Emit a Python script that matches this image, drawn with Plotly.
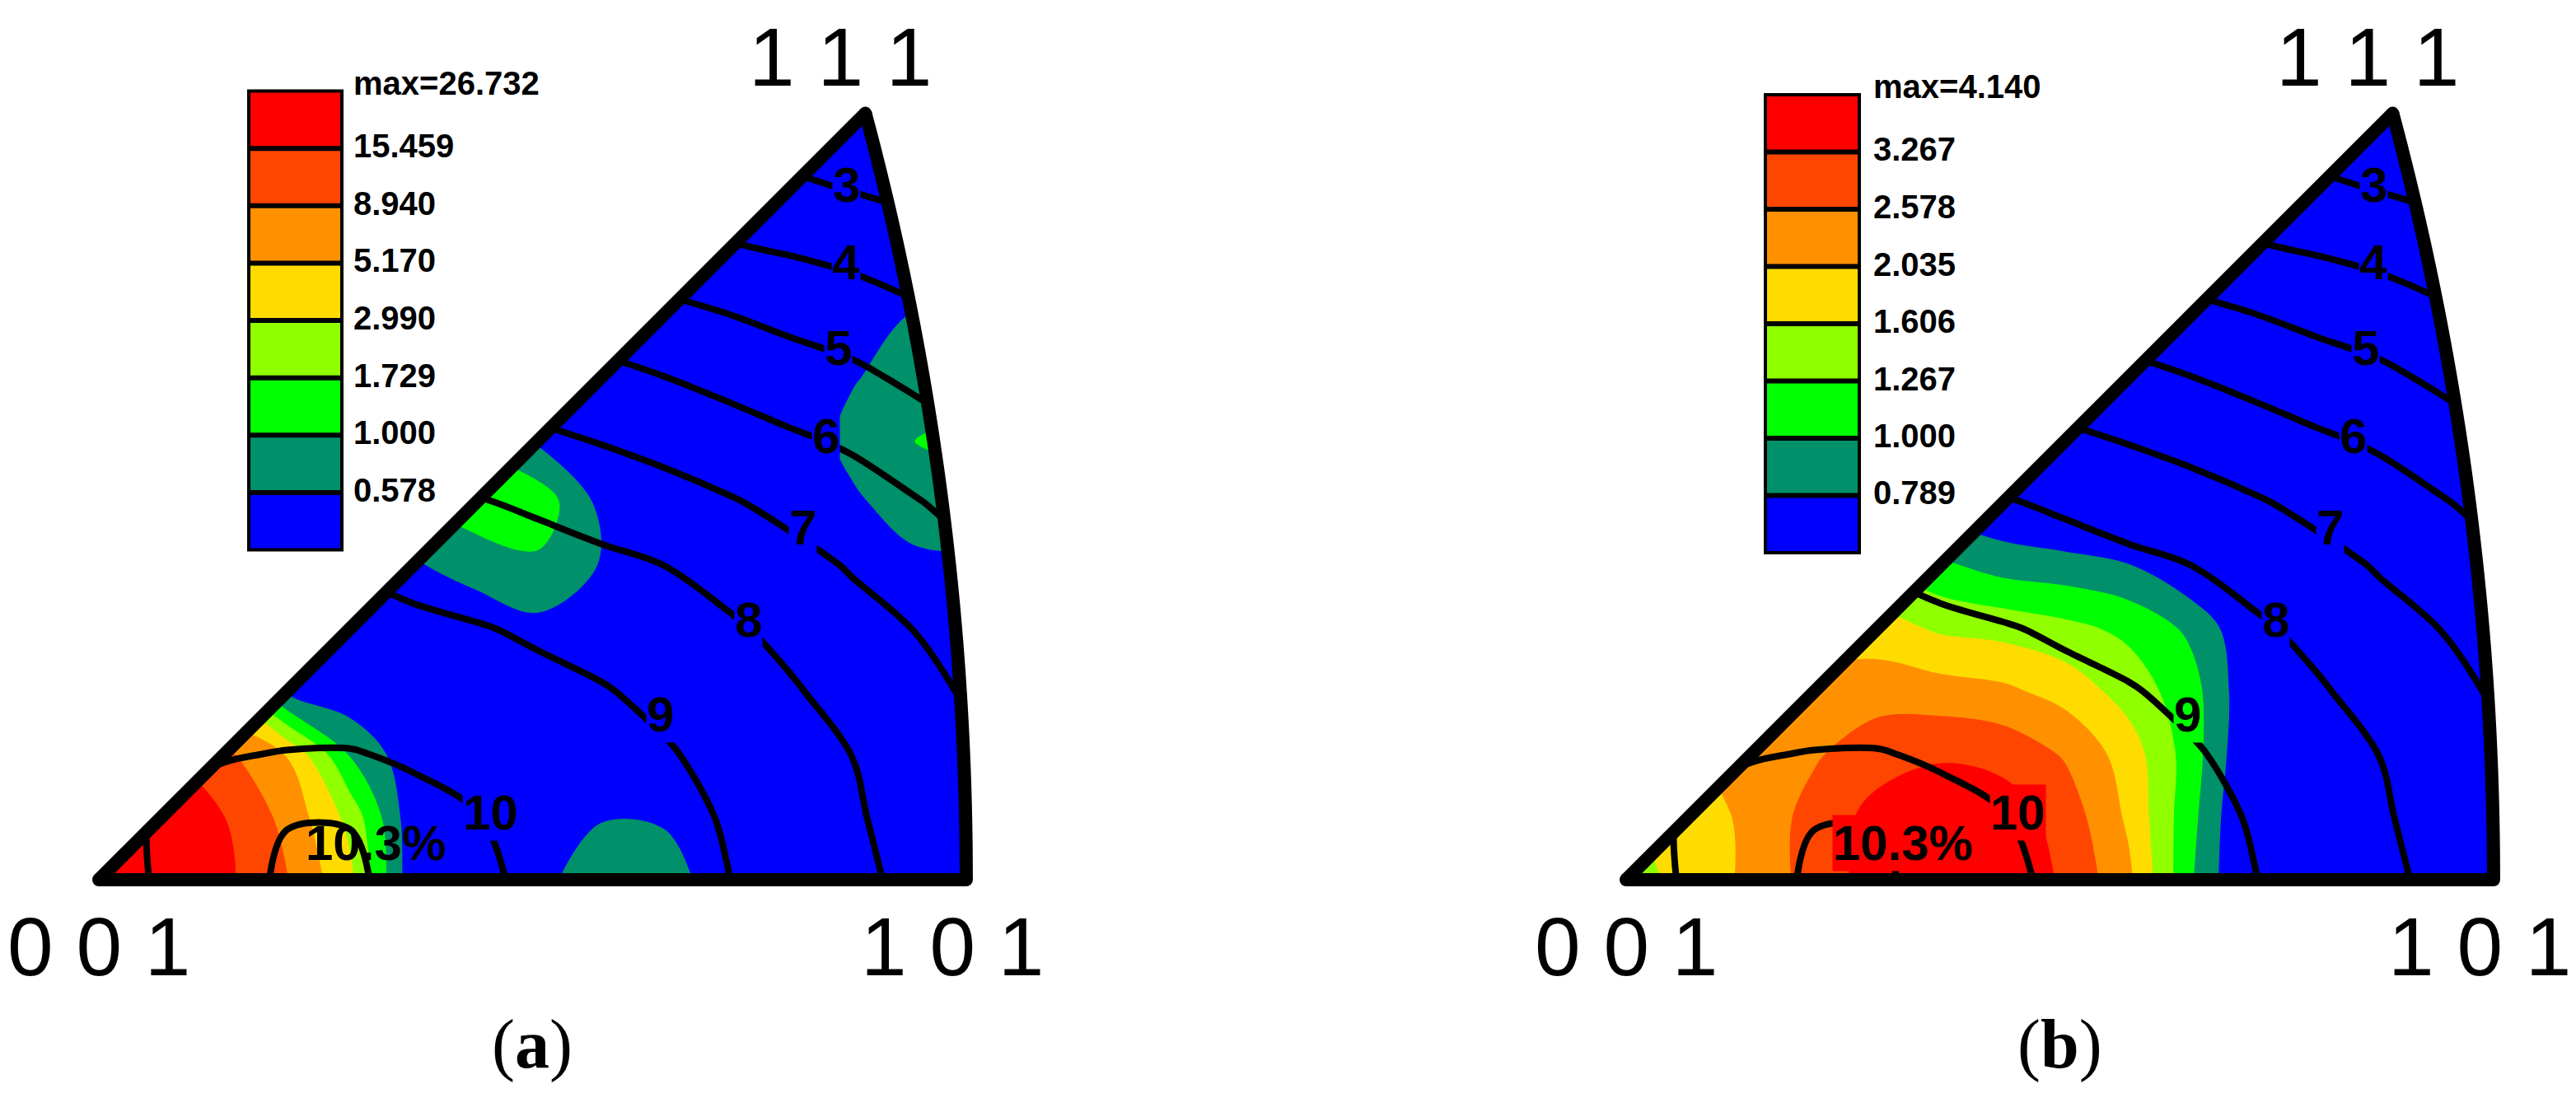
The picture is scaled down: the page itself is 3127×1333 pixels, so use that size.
import numpy as np
import plotly.graph_objects as go

# ---------------------------------------------------------------------------
# Values.
# Grid is in stereographic coordinates: X along 001 -> 101, Y towards 111.
# ---------------------------------------------------------------------------
GRID_X = [0.00, 0.03, 0.06, 0.09, 0.12, 0.15, 0.18, 0.21, 0.24, 0.27, 0.30, 0.33, 0.36, 0.39, 0.42, 0.45]
GRID_Y = [0.00, 0.03, 0.06, 0.09, 0.12, 0.15, 0.18, 0.21, 0.24, 0.27, 0.30, 0.33, 0.36, 0.39]

# black iso-lines (%), identical in both panels
LINE_FIELD = [
    [9.80, 10.05, 10.20, 10.34, 10.34, 10.21, 10.09, 9.90, 9.61, 9.31, 9.02, 8.62, 8.21, 7.77, 7.31, 6.85],
    [9.82, 10.05, 10.20, 10.29, 10.29, 10.17, 10.03, 9.74, 9.50, 9.24, 8.94, 8.53, 8.11, 7.62, 7.20, 6.80],
    [9.80, 9.92, 9.97, 10.02, 10.03, 9.93, 9.72, 9.46, 9.28, 9.08, 8.75, 8.38, 7.99, 7.45, 7.05, 6.60],
    [9.67, 9.68, 9.69, 9.71, 9.69, 9.55, 9.40, 9.20, 9.06, 8.79, 8.50, 8.11, 7.63, 7.24, 6.86, 6.45],
    [9.46, 9.45, 9.43, 9.39, 9.32, 9.18, 9.05, 8.89, 8.66, 8.39, 8.15, 7.73, 7.29, 6.98, 6.50, 6.20],
    [9.25, 9.21, 9.16, 9.08, 8.94, 8.73, 8.57, 8.39, 8.20, 8.00, 7.63, 7.28, 6.93, 6.52, 6.13, 5.85],
    [9.04, 8.94, 8.77, 8.57, 8.38, 8.21, 8.07, 7.86, 7.62, 7.37, 7.09, 6.77, 6.41, 6.06, 5.64, 5.20],
    [8.56, 8.38, 8.17, 8.00, 7.79, 7.61, 7.41, 7.18, 6.95, 6.71, 6.43, 6.13, 5.87, 5.45, 5.03, 4.80],
    [8.00, 7.80, 7.59, 7.38, 7.17, 6.96, 6.71, 6.48, 6.26, 6.01, 5.73, 5.46, 5.20, 4.81, 4.50, 4.20],
    [7.40, 7.19, 6.98, 6.71, 6.46, 6.23, 6.00, 5.76, 5.52, 5.27, 5.01, 4.74, 4.49, 4.17, 3.89, 3.60],
    [6.75, 6.49, 6.23, 5.96, 5.75, 5.52, 5.29, 5.04, 4.71, 4.41, 4.12, 3.95, 3.74, 3.46, 3.22, 3.05],
    [6.00, 5.75, 5.51, 5.29, 5.09, 4.77, 4.42, 4.07, 3.82, 3.60, 3.40, 3.18, 2.96, 2.75, 2.60, 2.40],
    [5.25, 5.03, 4.79, 4.51, 4.21, 3.88, 3.60, 3.38, 3.16, 2.92, 2.70, 2.50, 2.20, 2.00, 1.90, 1.80],
    [4.33, 4.08, 4.00, 3.67, 3.37, 3.13, 2.93, 2.70, 2.53, 2.30, 2.10, 1.90, 1.60, 1.40, 1.30, 1.20],
]
LINE_LEVELS = [3, 4, 5, 6, 7, 8, 9, 10]
PEAK_LEVEL = 10.3

# panel (a) intensity (times random)
INTENSITY_A = [
    [26.7, 22.4, 17.4, 9.12, 3.39, 0.40, 0.35, 0.50, 0.79, 0.71, 0.45, 0.35, 0.35, 0.35, 0.35, 0.35],
    [24.0, 20.0, 15.5, 7.59, 2.51, 0.40, 0.35, 0.35, 0.56, 0.55, 0.35, 0.35, 0.35, 0.35, 0.35, 0.35],
    [17.0, 15.5, 10.0, 5.01, 0.95, 0.40, 0.35, 0.35, 0.35, 0.35, 0.35, 0.35, 0.35, 0.35, 0.35, 0.35],
    [7.10, 5.60, 2.80, 0.50, 0.40, 0.35, 0.35, 0.35, 0.35, 0.35, 0.35, 0.35, 0.35, 0.35, 0.35, 0.35],
    [1.00, 0.80, 0.45, 0.38, 0.35, 0.35, 0.35, 0.50, 0.40, 0.35, 0.35, 0.35, 0.35, 0.35, 0.35, 0.35],
    [0.35, 0.35, 0.35, 0.35, 0.35, 0.53, 0.79, 0.89, 0.56, 0.35, 0.35, 0.35, 0.35, 0.50, 0.50, 0.35],
    [0.35, 0.35, 0.35, 0.35, 0.45, 0.89, 1.26, 1.41, 0.50, 0.35, 0.35, 0.35, 0.52, 0.79, 0.79, 0.50],
    [0.35, 0.35, 0.35, 0.35, 0.35, 0.60, 0.89, 0.52, 0.35, 0.35, 0.35, 0.35, 0.71, 1.02, 1.12, 0.60],
    [0.35, 0.35, 0.35, 0.35, 0.35, 0.35, 0.45, 0.45, 0.35, 0.35, 0.35, 0.35, 0.55, 0.79, 0.79, 0.50],
    [0.35, 0.35, 0.35, 0.35, 0.35, 0.35, 0.35, 0.35, 0.35, 0.35, 0.35, 0.35, 0.40, 0.60, 0.60, 0.35],
    [0.35, 0.35, 0.35, 0.35, 0.35, 0.35, 0.35, 0.35, 0.35, 0.35, 0.35, 0.35, 0.35, 0.35, 0.35, 0.35],
    [0.35, 0.35, 0.35, 0.35, 0.35, 0.35, 0.35, 0.35, 0.35, 0.35, 0.35, 0.35, 0.35, 0.35, 0.35, 0.35],
    [0.35, 0.35, 0.35, 0.35, 0.35, 0.35, 0.35, 0.35, 0.35, 0.35, 0.35, 0.35, 0.35, 0.35, 0.35, 0.35],
    [0.35, 0.35, 0.35, 0.35, 0.35, 0.35, 0.35, 0.35, 0.35, 0.35, 0.35, 0.35, 0.35, 0.35, 0.35, 0.35],
]
LEVELS_A = [0.578, 1.000, 1.729, 2.990, 5.170, 8.940, 15.459]
MAX_A = 26.732

# panel (b) intensity
INTENSITY_B = [
    [1.41, 1.78, 2.14, 2.88, 3.63, 4.07, 3.80, 3.16, 2.14, 1.02, 0.56, 0.50, 0.50, 0.50, 0.50, 0.50],
    [1.58, 1.74, 2.19, 2.82, 3.55, 3.98, 3.72, 2.95, 1.95, 1.07, 0.56, 0.50, 0.50, 0.50, 0.50, 0.50],
    [1.78, 2.00, 2.29, 2.51, 2.95, 3.16, 3.02, 2.51, 1.82, 1.12, 0.60, 0.52, 0.50, 0.50, 0.50, 0.50],
    [2.00, 2.14, 2.24, 2.29, 2.34, 2.26, 2.14, 1.86, 1.45, 1.10, 0.63, 0.52, 0.50, 0.50, 0.50, 0.50],
    [1.58, 1.58, 1.66, 1.74, 1.78, 1.55, 1.48, 1.35, 1.20, 0.95, 0.63, 0.52, 0.50, 0.50, 0.50, 0.50],
    [0.50, 0.63, 0.98, 1.41, 1.26, 1.05, 0.91, 0.87, 0.80, 0.63, 0.50, 0.50, 0.50, 0.50, 0.50, 0.50],
    [0.50, 0.50, 0.50, 0.63, 0.89, 0.71, 0.63, 0.56, 0.52, 0.50, 0.50, 0.50, 0.50, 0.50, 0.50, 0.50],
    [0.50, 0.50, 0.50, 0.50, 0.50, 0.50, 0.50, 0.50, 0.50, 0.50, 0.50, 0.50, 0.50, 0.50, 0.50, 0.50],
    [0.50, 0.50, 0.50, 0.50, 0.50, 0.50, 0.50, 0.50, 0.50, 0.50, 0.50, 0.50, 0.50, 0.50, 0.50, 0.50],
    [0.50, 0.50, 0.50, 0.50, 0.50, 0.50, 0.50, 0.50, 0.50, 0.50, 0.50, 0.50, 0.50, 0.50, 0.50, 0.50],
    [0.50, 0.50, 0.50, 0.50, 0.50, 0.50, 0.50, 0.50, 0.50, 0.50, 0.50, 0.50, 0.50, 0.50, 0.50, 0.50],
    [0.50, 0.50, 0.50, 0.50, 0.50, 0.50, 0.50, 0.50, 0.50, 0.50, 0.50, 0.50, 0.50, 0.50, 0.50, 0.50],
    [0.50, 0.50, 0.50, 0.50, 0.50, 0.50, 0.50, 0.50, 0.50, 0.50, 0.50, 0.50, 0.50, 0.50, 0.50, 0.50],
    [0.50, 0.50, 0.50, 0.50, 0.50, 0.50, 0.50, 0.50, 0.50, 0.50, 0.50, 0.50, 0.50, 0.50, 0.50, 0.50],
]
LEVELS_B = [0.789, 1.000, 1.267, 1.606, 2.035, 2.578, 3.267]
MAX_B = 4.140

# band colours, lowest band first
BAND_COLORS = ["#0000FF", "#00906A", "#00FF00", "#90FF00", "#FFDC00", "#FF9100", "#FF4600", "#FF0000"]

POLES = [(0, 0, 1), (1, 0, 1), (1, 1, 1)]

# ---------------------------------------------------------------------------
# Layout constants (pixels of the 3127 x 1333 canvas)
# ---------------------------------------------------------------------------
W, H = 3127, 1333
SCALE = 2542.0          # px per stereographic unit
FONT = "Liberation Sans, Arial, sans-serif"
SERIF = "Liberation Serif, Times New Roman, serif"

# where the iso-line numbers sit (stereographic coords)
LABEL_POS = [(0.357, 0.332), (0.357, 0.295), (0.353, 0.254), (0.347, 0.212),
             (0.336, 0.168), (0.310, 0.124), (0.268, 0.079), (0.187, 0.032), (0.132, 0.0175)]

PANELS = [
    dict(name="a", heat=INTENSITY_A, levels=LEVELS_A, vmax=MAX_A, origin=(120, 1068),
         domain=(0.0, 0.5), legend_x=(302, 415), legend_top=110.6, legend_bottom=667.5,
         text_x=427, label_bg=[0] * 8 + [None]),
    dict(name="b", heat=INTENSITY_B, levels=LEVELS_B, vmax=MAX_B, origin=(1974, 1068),
         domain=(0.5, 1.0), legend_x=(2143, 2257), legend_top=115, legend_bottom=671,
         text_x=2272, label_bg=[0] * 6 + [2, 7, 7]),
]


def stereo(h, k, l):
    n = np.sqrt(h * h + k * k + l * l)
    return h / (n + l), k / (n + l)


def path_of(points, close=False):
    s = "M " + " L ".join(f"{x:.5f},{y:.5f}" for x, y in points)
    return s + (" Z" if close else "")


def paper(x, y):
    return x / W, 1 - y / H


n_band = len(BAND_COLORS)
band_scale = []
for i, c in enumerate(BAND_COLORS):
    band_scale += [[i / n_band, c], [(i + 1) / n_band, c]]

p001, p101, p111 = [stereo(*p) for p in POLES]
arc = [stereo(1, t, 1) for t in np.linspace(0, 1, 80)]

fig = go.Figure()
shapes = []
annotations = []
layout_axes = {}

for idx, pan in enumerate(PANELS):
    sfx = "" if idx == 0 else str(idx + 1)
    xa, ya = "x" + sfx, "y" + sfx
    ox, oy = pan["origin"]
    d0, d1 = pan["domain"]
    xr = [(d0 * W - ox) / SCALE, (d1 * W - ox) / SCALE]
    yr = [-(H - oy) / SCALE, oy / SCALE]
    layout_axes["xaxis" + sfx] = dict(domain=[d0, d1], range=xr, visible=False,
                                      fixedrange=True, anchor=ya)
    layout_axes["yaxis" + sfx] = dict(domain=[0, 1], range=yr, visible=False,
                                      fixedrange=True, anchor=xa)

    # filled intensity bands (levels are log-uniform)
    lv = np.log10(pan["levels"])
    step = (lv[-1] - lv[0]) / (len(lv) - 1)
    fig.add_trace(go.Contour(
        x=GRID_X, y=GRID_Y, z=np.log10(np.array(pan["heat"])),
        autocontour=False,
        contours=dict(coloring="fill", start=lv[0], end=lv[-1], size=step, showlines=False),
        colorscale=band_scale, showscale=False, line=dict(width=0, smoothing=1),
        hoverinfo="skip", xaxis=xa, yaxis=ya,
    ))

    # black iso-lines
    fig.add_trace(go.Contour(
        x=GRID_X, y=GRID_Y, z=LINE_FIELD, autocontour=False,
        contours=dict(coloring="none", start=LINE_LEVELS[0], end=LINE_LEVELS[-1], size=1),
        line=dict(color="black", width=8, smoothing=1), showscale=False,
        hoverinfo="skip", xaxis=xa, yaxis=ya,
    ))
    fig.add_trace(go.Contour(
        x=GRID_X, y=GRID_Y, z=LINE_FIELD, autocontour=False,
        contours=dict(coloring="none", start=PEAK_LEVEL, end=PEAK_LEVEL, size=1),
        line=dict(color="black", width=8, smoothing=1), showscale=False,
        hoverinfo="skip", xaxis=xa, yaxis=ya,
    ))

    # white masks outside the standard triangle (overlapping above 111 so no seam)
    left_mask = [(-0.4, 0.0), p001, p111, (p111[0] + 0.05, 0.6), (-0.4, 0.6)]
    right_mask = arc + [(p111[0] - 0.05, 0.6), (0.8, 0.6), (0.8, -0.05), (p101[0], -0.05)]
    for m in (left_mask, right_mask):
        shapes.append(dict(type="path", path=path_of(m, True), xref=xa, yref=ya,
                           fillcolor="white", line=dict(width=0)))

    # triangle outline with rounded corners
    for seg in ([p001, p101], arc, [p111, p001]):
        shapes.append(dict(type="path", path=path_of(seg), xref=xa, yref=ya,
                           line=dict(color="black", width=16)))
    r = 8 / SCALE
    for (px_, py_) in (p001, p101, p111):
        shapes.append(dict(type="circle", xref=xa, yref=ya, x0=px_ - r, x1=px_ + r,
                           y0=py_ - r, y1=py_ + r, fillcolor="black", line=dict(width=0)))

    # pole labels
    for pole, (vx, vy) in zip(POLES, (p001, p101, p111)):
        txt = " ".join(str(i) for i in pole)
        if pole == (1, 1, 1):
            ax_, ay_ = vx - 0.012, vy + 0.027
        elif pole == (1, 0, 1):
            ax_, ay_ = vx - 0.0065, vy - 0.032
        else:
            ax_, ay_ = vx, vy - 0.032
        annotations.append(dict(x=ax_, y=ay_, xref=xa, yref=ya, text=txt, showarrow=False,
                                font=dict(family=FONT, size=100, color="black"),
                                xanchor="center", yanchor="middle"))

    # iso-line numbers
    texts = [str(v) for v in LINE_LEVELS] + [f"{PEAK_LEVEL}%"]
    for txt, (lx, ly), bg in zip(texts, LABEL_POS, pan["label_bg"]):
        ann = dict(x=lx, y=ly, xref=xa, yref=ya, text=f"<b>{txt}</b>", showarrow=False,
                   font=dict(family=FONT, size=60, color="black"),
                   xanchor="center", yanchor="middle", borderpad=0)
        if bg is not None:
            ann["bgcolor"] = BAND_COLORS[bg]
        annotations.append(ann)

    # panel caption
    annotations.append(dict(x=(p001[0] + p101[0]) / 2, y=-0.0785, xref=xa, yref=ya,
                            text=f"(<b>{pan['name']}</b>)", showarrow=False,
                            font=dict(family=SERIF, size=84, color="black"),
                            xanchor="center", yanchor="middle"))

    # colour key
    lx0, lx1 = pan["legend_x"]
    top, bot = pan["legend_top"], pan["legend_bottom"]
    ch = (bot - top) / n_band
    for i, c in enumerate(BAND_COLORS):
        x0, y0 = paper(lx0, bot - i * ch)
        x1, y1 = paper(lx1, bot - (i + 1) * ch)
        shapes.append(dict(type="rect", xref="paper", yref="paper", x0=x0, x1=x1,
                           y0=y0, y1=y1, fillcolor=c, line=dict(width=0)))
    for i in range(1, n_band):
        x0, yb = paper(lx0, bot - i * ch)
        x1, _ = paper(lx1, bot - i * ch)
        shapes.append(dict(type="line", xref="paper", yref="paper", x0=x0, x1=x1,
                           y0=yb, y1=yb, line=dict(color="black", width=6)))
    x0, y0 = paper(lx0, bot)
    x1, y1 = paper(lx1, top)
    shapes.append(dict(type="rect", xref="paper", yref="paper", x0=x0, x1=x1, y0=y0, y1=y1,
                       line=dict(color="black", width=4), fillcolor="rgba(0,0,0,0)"))
    for i, lev in enumerate(pan["levels"]):
        tx, ty = paper(pan["text_x"], bot - (i + 1) * ch - 3)
        annotations.append(dict(x=tx, y=ty, xref="paper", yref="paper",
                                text=f"<b>{lev:.3f}</b>", showarrow=False,
                                font=dict(family=FONT, size=40, color="black"),
                                xanchor="left", yanchor="middle"))
    tx, ty = paper(pan["text_x"], top - 10)
    annotations.append(dict(x=tx, y=ty, xref="paper", yref="paper",
                            text=f"<b>max={pan['vmax']:.3f}</b>", showarrow=False,
                            font=dict(family=FONT, size=40, color="black"),
                            xanchor="left", yanchor="middle"))

fig.update_layout(
    width=W, height=H,
    margin=dict(l=0, r=0, t=0, b=0),
    paper_bgcolor="white", plot_bgcolor="white",
    showlegend=False,
    shapes=shapes, annotations=annotations,
    **layout_axes,
)

fig.write_html(
    "out.html",
    config={"displayModeBar": False},
    post_script="document.body.style.margin='0';document.body.style.overflow='hidden';",
)
